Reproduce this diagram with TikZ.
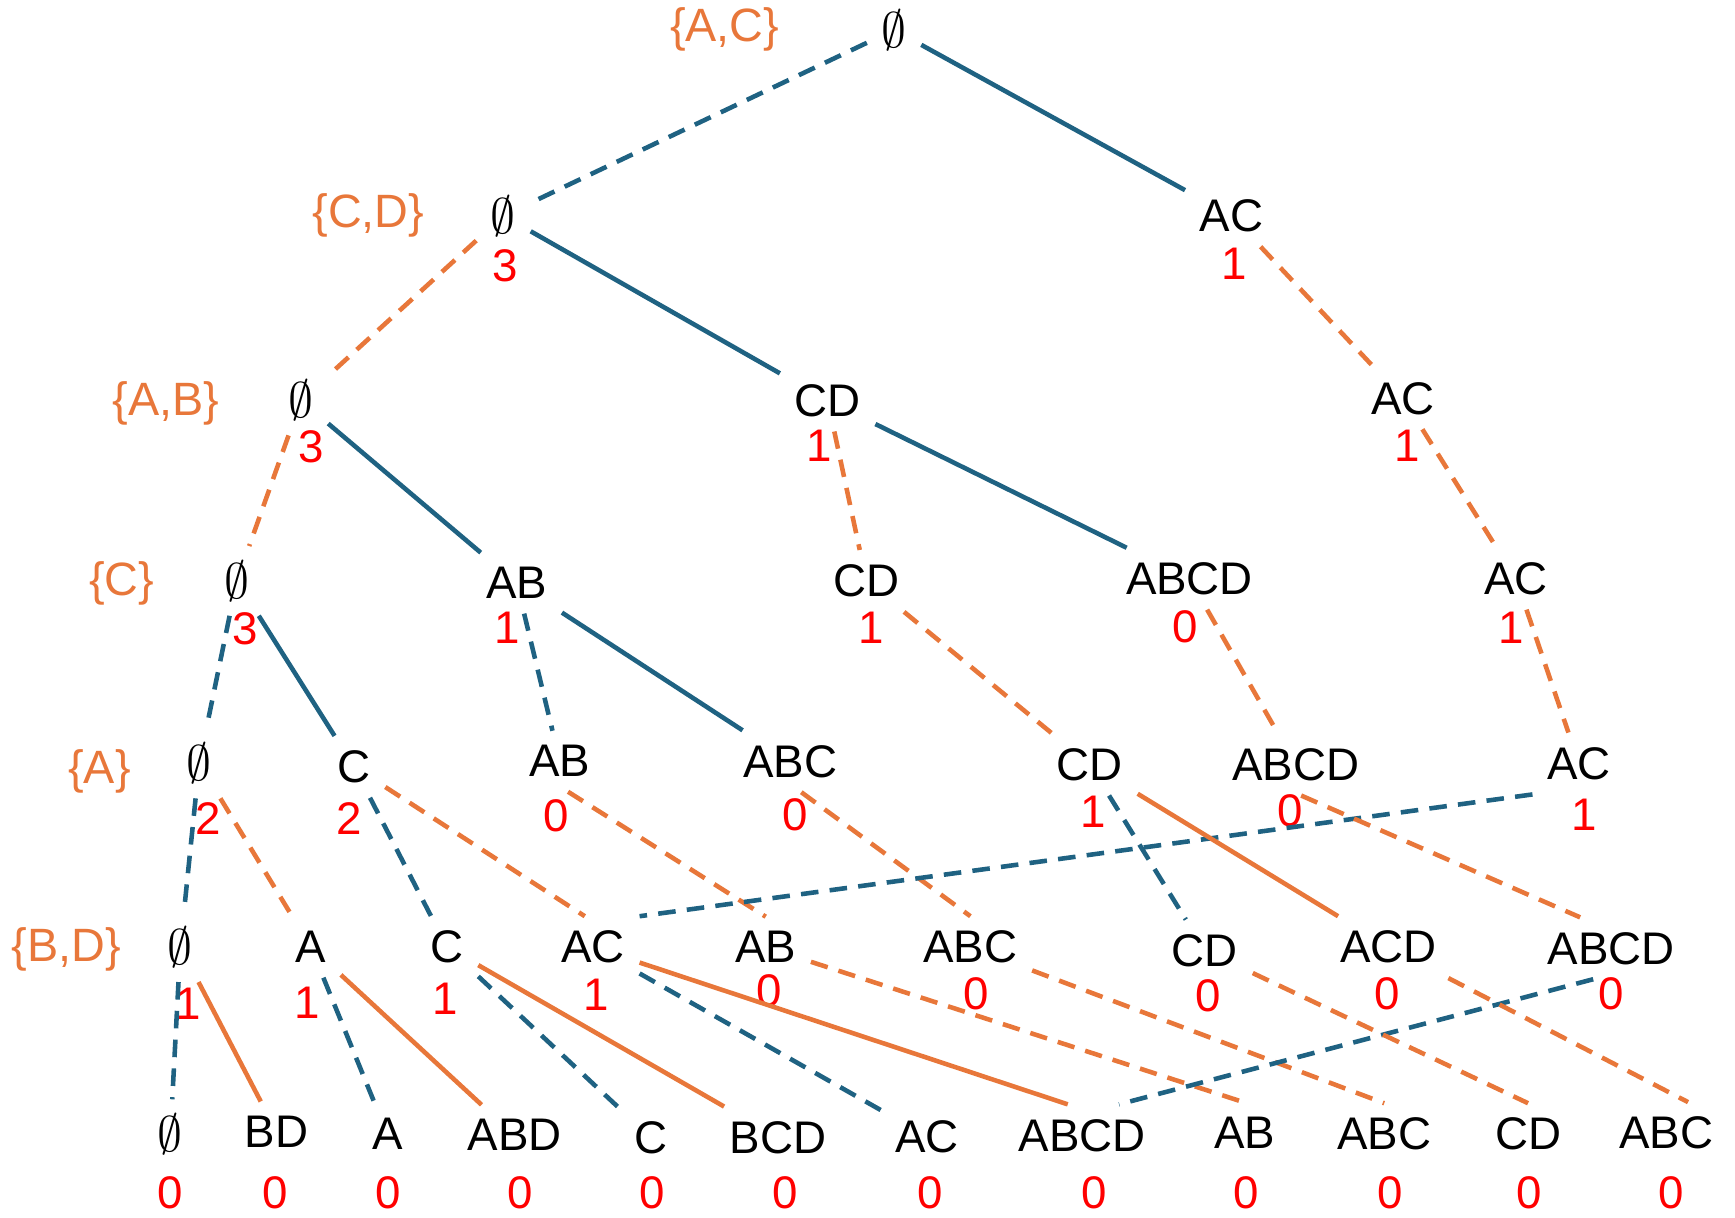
\documentclass[tikz,border=0pt]{standalone}
\usepackage{fix-cm}
\usepackage{fontspec}
\setmainfont{Liberation Sans}
\definecolor{blueC}{HTML}{1F6282}
\definecolor{orangeC}{HTML}{E8773A}
\newcommand\es{{\fontsize{14.2}{16}\selectfont$\emptyset$}}
\begin{document}
\begin{tikzpicture}[x=0.011065cm,y=-0.011065cm,
  lab/.style={font=\fontsize{13}{15}\selectfont, text=black, inner sep=4pt},
  cnt/.style={font=\fontsize{13}{15}\selectfont, text=red, inner sep=2pt},
  grp/.style={font=\fontsize{13.3}{15}\selectfont, text=orangeC, inner sep=2pt},
  edge/.style={line width=1.3pt},
  bl/.style={edge, draw=blueC},
  og/.style={edge, draw=orangeC},
  dsh/.style={dash pattern=on 5pt off 3.2pt},
]
\path[use as bounding box] (0,0) rectangle (1568,1100);

% row labels: the pair examined at each level
\node[grp] (g0) at (655,27)  {\{A,C\}};
\node[grp] (g1) at (333,195) {\{C,D\}};
\node[grp] (g2) at (150,365) {\{A,B\}};
\node[grp] (g3) at (110,527) {\{C\}};
\node[grp] (g4) at (90,697)  {\{A\}};
\node[grp] (g5) at (60,858)  {\{B,D\}};

% level 0
\node[lab] (n0) at (808,27) {\es};
% level 1
\node[lab] (n1a) at (455,195) {\es};   \node[cnt] (k1a) at (457,240) {3};
\node[lab] (n1b) at (1113,195) {AC};   \node[cnt] (k1b) at (1115,238) {1};
% level 2
\node[lab] (n2a) at (272,362) {\es};   \node[cnt] (k2a) at (281,404) {3};
\node[lab] (n2b) at (748,362) {CD};    \node[cnt] (k2b) at (740,403) {1};
\node[lab] (n2c) at (1268,360) {AC};   \node[cnt] (k2c) at (1272,403) {1};
% level 3
\node[lab] (n3a) at (214,525) {\es};   \node[cnt] (k3a) at (222,568) {3};
\node[lab] (n3b) at (467,527) {AB};    \node[cnt] (k3b) at (458,567) {1};
\node[lab] (n3c) at (783,525) {CD};    \node[cnt] (k3c) at (787,567) {1};
\node[lab] (n3d) at (1075,523) {ABCD}; \node[cnt] (k3d) at (1071,566) {0};
\node[lab] (n3e) at (1370,523) {AC};   \node[cnt] (k3e) at (1366,567) {1};
% level 4
\node[lab] (n4a) at (180,690) {\es};   \node[cnt] (k4a) at (188,740) {2};
\node[lab] (n4b) at (320,693) {C};     \node[cnt] (k4b) at (316,740) {2};
\node[lab] (n4c) at (506,688) {AB};    \node[cnt] (k4c) at (503,737) {0};
\node[lab] (n4d) at (714,688) {ABC};   \node[cnt] (k4d) at (719,736) {0};
\node[lab] (n4e) at (985,691) {CD};    \node[cnt] (k4e) at (988,734) {1};
\node[lab] (n4f) at (1171,691) {ABCD}; \node[cnt] (k4f) at (1166,733) {0};
\node[lab] (n4g) at (1427,690) {AC};   \node[cnt] (k4g) at (1432,736) {1};
% level 5
\node[lab] (n5a) at (163,856) {\es};   \node[cnt] (k5a) at (170,907) {1};
\node[lab] (n5b) at (281,856) {A};     \node[cnt] (k5b) at (278,906) {1};
\node[lab] (n5c) at (404,856) {C};     \node[cnt] (k5c) at (402,903) {1};
\node[lab] (n5d) at (536,856) {AC};    \node[cnt] (k5d) at (539,899) {1};
\node[lab] (n5e) at (692,856) {AB};    \node[cnt] (k5e) at (695,895) {0};
\node[lab] (n5f) at (877,856) {ABC};   \node[cnt] (k5f) at (882,898) {0};
\node[lab] (n5g) at (1089,859) {CD};   \node[cnt] (k5g) at (1092,900) {0};
\node[lab] (n5h) at (1255,856) {ACD};  \node[cnt] (k5h) at (1254,898) {0};
\node[lab] (n5i) at (1456,857) {ABCD}; \node[cnt] (k5i) at (1456,898) {0};
% level 6 (leaves)
\foreach \nm/\x/\y/\t/\cx in {
  a/154/1025/\es/154, b/250/1023/BD/249, c/350/1025/A/351,
  d/465/1026/ABD/470, e/588/1028/C/589, f/703/1028/BCD/710,
  g/838/1027/AC/841, h/978/1026/ABCD/989, i/1125/1024/AB/1126,
  j/1251/1025/ABC/1256, k/1381/1025/CD/1382, l/1506/1024/ABC/1510}{
  \node[lab] (n6\nm) at (\x,\y) {\t};
  \node[cnt] (k6\nm) at (\cx,1078) {0};
}

% branches
\draw[bl,dsh] (n0) -- (n1a);
\draw[bl]     (n0) -- (n1b);
\draw[og,dsh] (n1a) -- (n2a);
\draw[bl]     (n1a) -- (n2b);
\draw[og,dsh] (n1b) -- (n2c);
\draw[og,dsh] (n2a) -- (n3a);
\draw[bl]     (n2a) -- (n3b);
\draw[og,dsh] (n2b) -- (n3c);
\draw[bl]     (n2b) -- (n3d);
\draw[og,dsh] (n2c) -- (n3e);
\draw[bl,dsh] (n3a) -- (n4a);
\draw[bl]     (n3a) -- (n4b);
\draw[bl,dsh] (n3b) -- (n4c);
\draw[bl]     (n3b) -- (n4d);
\draw[og,dsh] (n3c) -- (n4e);
\draw[og,dsh] (n3d) -- (n4f);
\draw[og,dsh] (n3e) -- (n4g);
\draw[bl,dsh] (n4a) -- (n5a);
\draw[og,dsh] (n4a) -- (n5b);
\draw[bl,dsh] (n4b) -- (n5c);
\draw[og,dsh] (n4b) -- (n5d.105);
\draw[og,dsh] (n4c.-75) -- (n5e.north);
\draw[og,dsh] (n4d.-70) -- (n5f.north);
\draw[bl,dsh] (n4g.south west) -- (n5d.north east);
\draw[bl,dsh] (n4e) -- (n5g);
\draw[og]     (n4e) -- (n5h);
\draw[og,dsh] (n4f.-80) -- (n5i.135);
\draw[bl,dsh] (n5a) -- (n6a);
\draw[og]     (n5a) -- (n6b);
\draw[bl,dsh] (n5b) -- (n6c);
\draw[og]     (n5b) -- (n6d);
\draw[bl,dsh] (n5c) -- (n6e);
\draw[og]     (n5c) -- (n6f);
\draw[bl,dsh] (n5d) -- (n6g);
\draw[og]     (n5d) -- (n6h.115);
\draw[og,dsh] (n5e) -- (n6i.north);
\draw[og,dsh] (n5f) -- (n6j.north);
\draw[bl,dsh] (n5i.-120) -- (n6h.40);
\draw[og,dsh] (n5g) -- (n6k.north);
\draw[og,dsh] (n5h) -- (n6l.55);
\end{tikzpicture}
\end{document}
